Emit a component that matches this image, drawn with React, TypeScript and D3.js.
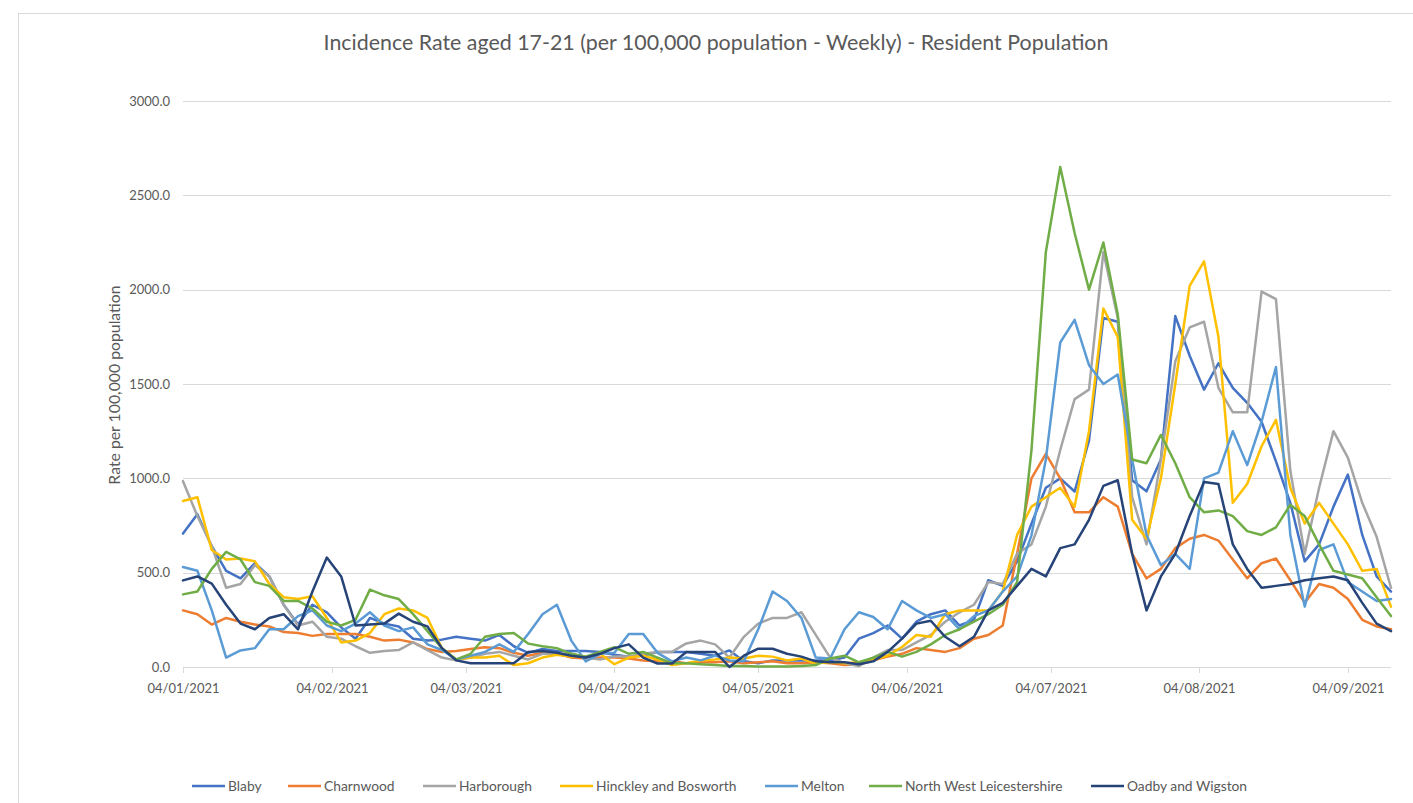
import React from "react";
import * as d3 from "d3";

const title = "Incidence Rate aged 17-21 (per 100,000 population - Weekly) - Resident Population";
const yAxisTitle = "Rate per 100,000 population";
const tickLabels = ["04/01/2021", "04/02/2021", "04/03/2021", "04/04/2021", "04/05/2021", "04/06/2021", "04/07/2021", "04/08/2021", "04/09/2021"];
const yTicks = [0, 500, 1000, 1500, 2000, 2500, 3000];
const startDate = "04/01/2021";
const endDate = "13/09/2021";
const stepDays = 3;

const seriesNames = ["Blaby", "Charnwood", "Harborough", "Hinckley and Bosworth", "Melton", "North West Leicestershire", "Oadby and Wigston"];
const seriesColors = ["#4472C4", "#ED7D31", "#A5A5A5", "#FFC000", "#5B9BD5", "#70AD47", "#264478"];

const blaby = [707, 810, 640, 510, 470, 550, 480, 330, 225, 330, 290, 210, 150, 260, 230, 215, 150, 140, 145, 160, 150, 140, 170, 110, 75, 95, 85, 85, 85, 80, 65, 55, 60, 80, 80, 80, 70, 60, 88, 30, 20, 35, 35, 35, 35, 35, 50, 150, 180, 220, 150, 240, 280, 300, 220, 250, 460, 430, 560, 760, 950, 1000, 930, 1200, 1850, 1830, 990, 931, 1100, 1860, 1650, 1470, 1610, 1480, 1400, 1300, 1090, 870, 560, 650, 850, 1020, 700, 480, 400];
const charnwood = [300, 280, 225, 260, 240, 225, 215, 185, 180, 165, 175, 175, 175, 160, 140, 145, 130, 95, 80, 85, 95, 105, 100, 75, 60, 75, 70, 50, 45, 50, 50, 45, 35, 30, 30, 20, 25, 25, 30, 20, 25, 30, 20, 20, 25, 20, 10, 15, 35, 55, 70, 100, 90, 80, 100, 150, 170, 220, 600, 1000, 1130, 1000, 820, 820, 900, 850, 600, 470, 520, 630, 680, 700, 670, 570, 470, 550, 575, 460, 340, 440, 420, 360, 250, 215, 200];
const harborough = [985, 800, 640, 420, 440, 540, 480, 330, 220, 240, 160, 150, 110, 75, 85, 90, 130, 90, 50, 35, 50, 70, 80, 60, 40, 70, 70, 70, 50, 40, 55, 55, 70, 80, 80, 125, 140, 120, 50, 160, 230, 260, 260, 290, 170, 50, 20, 5, 50, 90, 90, 130, 170, 240, 290, 330, 450, 440, 600, 650, 850, 1150, 1420, 1470, 2200, 1850, 900, 650, 1100, 1620, 1800, 1830, 1480, 1350, 1350, 1990, 1950, 1040, 600, 950, 1250, 1110, 870, 690, 420];
const hinckley = [880, 900, 620, 570, 575, 560, 440, 370, 360, 375, 260, 130, 140, 180, 280, 310, 300, 260, 100, 40, 50, 50, 60, 10, 20, 50, 65, 55, 55, 70, 15, 50, 60, 40, 10, 20, 35, 40, 50, 45, 60, 55, 35, 45, 20, 25, 20, 25, 40, 60, 106, 170, 160, 280, 300, 300, 300, 400, 700, 850, 900, 950, 850, 1250, 1900, 1750, 780, 680, 1000, 1500, 2020, 2150, 1750, 870, 970, 1170, 1310, 950, 760, 870, 760, 650, 510, 520, 320];
const melton = [530, 510, 300, 50, 88, 100, 200, 200, 270, 300, 220, 190, 230, 290, 220, 190, 210, 120, 90, 40, 60, 80, 120, 80, 175, 280, 330, 140, 30, 70, 75, 175, 175, 75, 30, 50, 35, 60, 35, 30, 200, 400, 350, 260, 50, 45, 200, 290, 265, 200, 350, 300, 260, 280, 200, 270, 300, 400, 480, 698, 1100, 1720, 1840, 1600, 1500, 1550, 1100, 700, 540, 600, 520, 1000, 1030, 1250, 1070, 1300, 1590, 700, 320, 620, 650, 450, 400, 350, 360];
const nwLeics = [385, 400, 520, 610, 570, 450, 430, 350, 350, 310, 240, 220, 250, 410, 380, 360, 280, 190, 100, 40, 70, 160, 175, 180, 124, 110, 100, 70, 55, 80, 105, 70, 80, 50, 20, 20, 15, 10, 5, 5, 3, 3, 3, 5, 10, 45, 60, 25, 50, 80, 55, 80, 120, 170, 200, 240, 280, 330, 450, 1150, 2200, 2650, 2300, 2000, 2250, 1870, 1100, 1080, 1230, 1080, 900, 820, 830, 800, 720, 700, 740, 860, 800, 650, 510, 490, 470, 370, 270];
const oadby = [459, 480, 442, 330, 230, 200, 260, 280, 200, 400, 580, 480, 220, 225, 230, 283, 240, 215, 100, 35, 20, 20, 20, 20, 80, 85, 75, 60, 50, 70, 100, 120, 50, 18, 18, 80, 80, 80, 0, 60, 97, 97, 70, 55, 30, 25, 25, 15, 30, 80, 150, 230, 245, 160, 110, 160, 300, 340, 430, 520, 480, 630, 650, 780, 960, 990, 600, 300, 480, 600, 800, 980, 970, 650, 520, 420, 430, 440, 460, 470, 480, 460, 340, 230, 190];

const seriesValues = [blaby, charnwood, harborough, hinckley, melton, nwLeics, oadby];

const parse = d3.timeParse("%d/%m/%Y");

export default function App() {
  const W = 1413;
  const H = 803;
  const x0 = parse(startDate) as Date;
  const x1 = parse(endDate) as Date;
  const x = d3.scaleTime().domain([x0, x1]).range([183, 1391]);
  const y = d3.scaleLinear().domain([0, 3000]).range([667, 101]);
  const dates = blaby.map((_, i) => d3.timeDay.offset(x0, i * stepDays));
  const line = d3
    .line<number>()
    .x((_, i) => x(dates[i]))
    .y((v) => y(v));
  const font = "Lato, Calibri, 'Open Sans', sans-serif";
  const grey = "#595959";
  const legendX = [192, 288, 423, 560, 765, 869, 1091];
  return (
    <svg width={W} height={H} style={{ position: "absolute", left: 0, top: 0, background: "#fff" }} fontFamily={font}>
      <rect x={0} y={0} width={W} height={H} fill="#fff" />
      <rect x={18.5} y={13.5} width={1500} height={900} fill="none" stroke="#d9d9d9" />
      <text x={716} y={50} textAnchor="middle" fontSize={21.4} fill={grey}>{title}</text>
      {yTicks.map((t) => (
        <g key={t}>
          <line x1={183} x2={1391} y1={Math.round(y(t)) + 0.5} y2={Math.round(y(t)) + 0.5} stroke="#d9d9d9" strokeWidth={1} />
          <text x={170} y={y(t) + 4.5} textAnchor="end" fontSize={13} fill={grey}>{t.toFixed(1)}</text>
        </g>
      ))}
      {tickLabels.map((l) => {
        const tx = Math.round(x(parse(l) as Date)) + 0.5;
        return (
          <g key={l}>
            <line x1={tx} x2={tx} y1={667} y2={673} stroke="#d9d9d9" />
            <text x={tx} y={693} textAnchor="middle" fontSize={13} fill={grey}>{l}</text>
          </g>
        );
      })}
      <text transform={`translate(120,385) rotate(-90)`} textAnchor="middle" fontSize={15.8} fill={grey}>{yAxisTitle}</text>
      <g>
        {seriesValues.map((vals, k) => (
          <path key={k} d={line(vals) || ""} fill="none" stroke={seriesColors[k]} strokeWidth={2.5} strokeLinejoin="round" strokeLinecap="round" />
        ))}
      </g>
      {seriesNames.map((n, k) => (
        <g key={n}>
          <line x1={legendX[k]} x2={legendX[k] + 33} y1={786} y2={786} stroke={seriesColors[k]} strokeWidth={2.5} />
          <text x={legendX[k] + 36} y={791} fontSize={13.8} fill={grey}>{n}</text>
        </g>
      ))}
    </svg>
  );
}
